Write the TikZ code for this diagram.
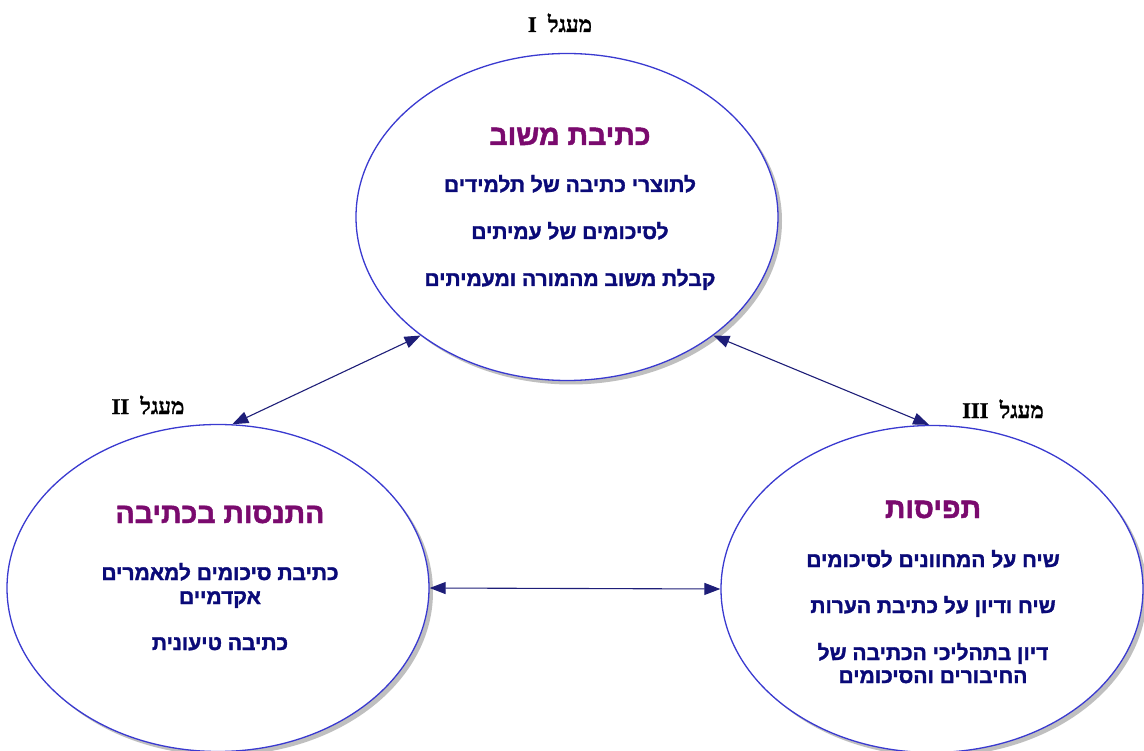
\documentclass[tikz,border=0pt]{standalone}
\usepackage{fontspec}
\usetikzlibrary{shapes.geometric,arrows.meta}
\TeXXeTstate=1
\newfontfamily\hebb[Script=Hebrew,FakeBold=1.6]{Liberation Sans Bold}
\newfontfamily\hebs[Script=Hebrew,FakeBold=1.2]{Liberation Serif Bold}
\definecolor{ttl}{HTML}{7A0A6E}
\definecolor{itm}{HTML}{0A0A78}
\definecolor{rim}{HTML}{3A3AD0}
\definecolor{arr}{HTML}{1E1E78}
\tikzset{
  circ/.style={ellipse, draw=rim, line width=1.3pt, fill=white, minimum width=422pt, minimum height=327pt, inner sep=0pt},
  shad/.style={ellipse, fill=black!25, minimum width=422pt, minimum height=327pt, inner sep=0pt},
  ttlt/.style={font=\hebb\fontsize{28.5}{32}\selectfont, text=ttl, inner sep=0pt, anchor=base},
  itmt/.style={font=\hebb\fontsize{21}{24}\selectfont, text=itm, inner sep=0pt, anchor=base},
  lbl/.style={font=\hebs\fontsize{22.5}{24}\selectfont, inner sep=0pt, anchor=base},
  link/.style={arr, line width=1.1pt, {Triangle[length=16pt,width=12pt]}-{Triangle[length=16pt,width=12pt]}}
}
\begin{document}
\begin{tikzpicture}[x=1pt,y=-1pt]
\useasboundingbox (0,0) rectangle (1144,751);
% shadows
\node[shad] (Ts) at (571,221) {};
\node[shad] (Ls) at (222,592) {};
\node[shad] (Rs) at (936,593) {};
% ellipses
\node[circ] (T) at (567,217) {};
\node[circ] (L) at (218,588) {};
\node[circ] (R) at (932,589) {};
% circle labels
\node[lbl] (lT) at (560,32) {\beginR מעגל\ \ I\endR};
\node[lbl] (lL) at (148,414) {\beginR מעגל\ \ II\endR};
\node[lbl] (lR) at (1003,418) {\beginR מעגל\ \ III\endR};
% top circle text
\node[ttlt] (tT) at (570,145) {\beginR כתיבת משוב\endR};
\node[itmt] (t1) at (570,192) {\beginR לתוצרי כתיבה של תלמידים\endR};
\node[itmt] (t2) at (570,239) {\beginR לסיכומים של עמיתים\endR};
\node[itmt] (t3) at (570,286) {\beginR קבלת משוב מהמורה ומעמיתים\endR};
% left circle text
\node[ttlt] (tL) at (220,523) {\beginR התנסות בכתיבה\endR};
\node[itmt] (l1a) at (220,580) {\beginR כתיבת סיכומים למאמרים\endR};
\node[itmt] (l1b) at (220,604) {\beginR אקדמיים\endR};
\node[itmt] (l2) at (220,650) {\beginR כתיבה טיעונית\endR};
% right circle text
\node[ttlt] (tR) at (933,518) {\beginR תפיסות\endR};
\node[itmt] (r1) at (933,567) {\beginR שיח על המחוונים לסיכומים\endR};
\node[itmt] (r2) at (933,613) {\beginR שיח ודיון על כתיבת הערות\endR};
\node[itmt] (r3a) at (933,660) {\beginR דיון בתהליכי הכתיבה של\endR};
\node[itmt] (r3b) at (933,683) {\beginR החיבורים והסיכומים\endR};
% connectors
\draw[link] (L.85) -- (T.219);
\draw[link] (T.321) -- (R.91);
\draw[link] (L.east) -- (R.west);
\end{tikzpicture}
\end{document}
